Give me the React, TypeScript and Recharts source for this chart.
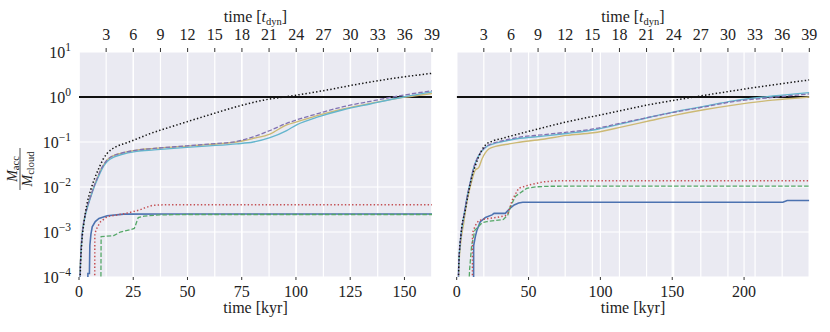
import React from 'react';
import { LineChart, Line, XAxis, YAxis, CartesianGrid } from 'recharts';

const FONT = "'Liberation Serif', 'Times New Roman', serif";
const TXT = '#222222';

// axis ticks
const yTicks = [1e-4, 1e-3, 1e-2, 1e-1, 1, 10];
const leftKyrTicks = [0, 25, 50, 75, 100, 125, 150];
const rightKyrTicks = [0, 50, 100, 150, 200];
const tdynTicks = [3, 6, 9, 12, 15, 18, 21, 24, 27, 30, 33, 36, 39];
const leftXMax = 162.7;
const rightXMax = 245.4;
const tdynMax = 39;
const leftTdyn = leftXMax / tdynMax;
const rightTdyn = rightXMax / tdynMax;

// reference level Macc = Mcloud, on the t_dyn axis
const unity = [[0, 1], [39, 1]];

// left panel series: [time kyr, Macc/Mcloud]
const leftBlack = [[0.2,1e-5],[0.6,1.2e-4],[1.2,5e-4],[2.3,1.6e-3],[3.5,3.8e-3],[5.4,8.6e-3],[7.3,0.016],[9,0.025],[11.2,0.042],[13,0.056],[17,0.078],[22.3,0.097],[26.6,0.117],[33,0.155],[40,0.2],[49.6,0.28],[60,0.4],[72.7,0.61],[85,0.85],[100.3,1.1],[115,1.45],[126.5,1.85],[145,2.6],[162.7,3.36]];
const leftYellow = [[0.3,1e-5],[0.5,1.2e-4],[1.5,9.4e-4],[2.5,2e-3],[3.8,3.6e-3],[5.5,6.5e-3],[6.9,0.0103],[8.5,0.016],[10,0.024],[11.5,0.032],[13,0.04],[16,0.05],[19.2,0.056],[26.6,0.066],[34.6,0.072],[49.6,0.081],[60,0.088],[72.7,0.1],[80.3,0.12],[88,0.15],[95.7,0.24],[100.3,0.28],[111,0.4],[121.8,0.54],[134.2,0.72],[149.5,0.98],[162.7,1.2]];
const leftCyan = [[0.3,1e-5],[0.5,1.1e-4],[1.5,9e-4],[2.5,1.9e-3],[3.8,3.4e-3],[5.5,6.2e-3],[6.9,0.0098],[8.5,0.015],[10,0.022],[11.5,0.03],[13,0.037],[16,0.046],[19.2,0.052],[26.6,0.062],[34.6,0.067],[49.6,0.076],[60,0.082],[72.7,0.091],[80.3,0.1],[88,0.125],[95.7,0.18],[100.3,0.24],[111,0.37],[121.8,0.52],[134.2,0.7],[149.5,1.0],[162.7,1.3]];
const leftPurple = [[0.3,1e-5],[0.5,1.2e-4],[1.5,9.4e-4],[2.5,2e-3],[3.8,3.6e-3],[5.5,6.5e-3],[6.9,0.0103],[8.5,0.016],[10,0.024],[11.5,0.032],[13,0.04],[16,0.05],[19.2,0.056],[26.6,0.066],[34.6,0.072],[49.6,0.082],[60,0.09],[72.7,0.103],[80.3,0.13],[88,0.18],[95.7,0.26],[100.3,0.31],[111,0.44],[121.8,0.61],[134.2,0.8],[149.5,1.1],[162.7,1.38]];
const leftBlue = [[4.0,1e-5],[4.1,1.2e-4],[4.8,1.2e-4],[5.0,5e-4],[5.5,9e-4],[6.1,1.3e-3],[7.5,1.7e-3],[9.2,2e-3],[13,2.3e-3],[20.7,2.5e-3],[40,2.52e-3],[162.7,2.52e-3]];
const leftRed = [[7.2,1e-5],[7.3,9.3e-4],[8.5,1.3e-3],[10,1.7e-3],[13,2.2e-3],[20,2.5e-3],[24.6,2.8e-3],[28.1,3.1e-3],[30,3.4e-3],[33.8,3.9e-3],[40,4.05e-3],[162.7,4.05e-3]];
const leftGreen = [[10,1e-5],[10.2,7.9e-4],[16,8.3e-4],[19,1e-3],[24.2,1.15e-3],[25.5,1.2e-3],[27.3,2.1e-3],[30,2.25e-3],[37.3,2.4e-3],[50,2.45e-3],[162.7,2.45e-3]];

// right panel series
const rightBlack = [[0.8,1e-5],[1.5,2e-4],[3,9e-4],[6,3.1e-3],[8,7e-3],[10.6,0.017],[13,0.03],[15.3,0.047],[19.9,0.085],[25,0.105],[31.5,0.12],[52.4,0.18],[76.6,0.28],[100,0.4],[134.5,0.68],[169.4,1.05],[206,1.6],[245.4,2.39]];
const rightYellow = [[1.0,1e-5],[1.4,1.45e-4],[2.5,4.7e-4],[4.9,1.6e-3],[7,4.5e-3],[9.5,0.0103],[13,0.024],[15.3,0.027],[17.6,0.042],[20,0.058],[22.3,0.07],[27,0.08],[33.8,0.088],[41.8,0.097],[60,0.115],[76.6,0.14],[95.1,0.16],[116,0.22],[135,0.3],[153,0.4],[172,0.52],[192.5,0.66],[220,0.85],[245.4,1.0]];
const rightCyan = [[0.9,1e-5],[1.3,1.5e-4],[2.5,6e-4],[5,2.3e-3],[7,5.5e-3],[9.5,0.013],[12,0.028],[15.3,0.05],[19.9,0.075],[25,0.09],[33.8,0.105],[41.8,0.118],[60,0.135],[76.6,0.155],[95.1,0.185],[116,0.26],[135,0.36],[153,0.48],[172,0.62],[192.5,0.82],[220,1.05],[245.4,1.25]];
const rightPurple = [[0.9,1e-5],[1.3,1.5e-4],[2.5,6e-4],[5,2.3e-3],[7,5.5e-3],[9.5,0.013],[12,0.028],[15.3,0.05],[19.9,0.077],[25,0.093],[33.8,0.11],[41.8,0.125],[60,0.145],[76.6,0.165],[95.1,0.195],[116,0.27],[135,0.36],[153,0.47],[172,0.6],[192.5,0.79],[220,0.98],[245.4,1.17]];
const rightBlue = [[11.7,1e-5],[11.8,5e-4],[13,8e-4],[14.1,1.1e-3],[16.4,1.7e-3],[20,2.1e-3],[24.6,2.4e-3],[26,2.6e-3],[33.8,2.6e-3],[37.3,3.4e-3],[40,4e-3],[43.1,4.4e-3],[46,4.6e-3],[227,4.6e-3],[230,5e-3],[245.4,5e-3]];
const rightRed = [[10.9,1e-5],[11,9.5e-4],[13,1.4e-3],[15.3,1.8e-3],[20,1.95e-3],[27.7,2.1e-3],[33.8,2.3e-3],[36,2.7e-3],[38.5,5e-3],[43.1,9.4e-3],[50,0.011],[60,0.013],[70,0.0138],[245.4,0.0138]];
const rightGreen = [[7.2,1e-5],[9,1.5e-4],[10.4,5e-4],[12.7,1.1e-3],[17.6,1.6e-3],[20.9,1.7e-3],[26.6,1.8e-3],[32.5,1.9e-3],[35.6,2.4e-3],[37.3,3.6e-3],[40.9,6.2e-3],[43.1,7e-3],[48.7,9.3e-3],[55,0.0101],[65,0.0104],[245.4,0.0105]];

const toPts = (a: number[][]) => a.map(([t, v]) => ({ t, v }));

const C = {
  blue: '#4C72B0', green: '#55A868', red: '#C44E52',
  purple: '#8172B2', yellow: '#CCB974', cyan: '#64B5CD', black: '#111111',
};

type S = { data: number[][]; color: string; dash?: string; width: number; curve: 'monotone' | 'linear' };

const leftSeries: S[] = [
  { data: leftBlue, color: C.blue, width: 1.6, curve: 'linear' },
  { data: leftGreen, color: C.green, dash: '4.5 2', width: 1.3, curve: 'linear' },
  { data: leftRed, color: C.red, dash: '1.4 2.2', width: 1.5, curve: 'linear' },
  { data: leftYellow, color: C.yellow, width: 1.4, curve: 'monotone' },
  { data: leftCyan, color: C.cyan, width: 1.4, curve: 'monotone' },
  { data: leftPurple, color: C.purple, dash: '4.5 2', width: 1.3, curve: 'monotone' },
  { data: leftBlack, color: C.black, dash: '1.4 2.2', width: 1.5, curve: 'monotone' },
];
const rightSeries: S[] = [
  { data: rightBlue, color: C.blue, width: 1.6, curve: 'linear' },
  { data: rightGreen, color: C.green, dash: '4.5 2', width: 1.3, curve: 'linear' },
  { data: rightRed, color: C.red, dash: '1.4 2.2', width: 1.5, curve: 'linear' },
  { data: rightYellow, color: C.yellow, width: 1.4, curve: 'monotone' },
  { data: rightCyan, color: C.cyan, width: 1.4, curve: 'monotone' },
  { data: rightPurple, color: C.purple, dash: '4.5 2', width: 1.3, curve: 'monotone' },
  { data: rightBlack, color: C.black, dash: '1.4 2.2', width: 1.5, curve: 'monotone' },
];

const YTick = (props: any) => {
  const { x, y, payload } = props;
  const exp = Math.round(Math.log10(payload.value));
  const s = exp < 0 ? '\u2212' + String(-exp) : String(exp);
  return (
    <text x={x} y={y + 5.5} textAnchor="end" fill={TXT} fontFamily={FONT} fontSize={16}>
      10<tspan dy={-7} fontSize={11.5}>{s}</tspan>
    </text>
  );
};

// bottom ticks: props.y is the top of the label; top ticks: props.y is the baseline
const BottomTick = (props: any) => (
  <text x={props.x} y={props.y + 11} textAnchor="middle" fill={TXT} fontFamily={FONT} fontSize={16}>
    {props.payload.value}
  </text>
);
const TopTick = (props: any) => (
  <text x={props.x} y={props.y + 0.5} textAnchor="middle" fill={TXT} fontFamily={FONT} fontSize={16}>
    {props.payload.value}
  </text>
);

function Panel(props: {
  series: S[]; xMax: number; tdyn: number; kyrTicks: number[]; showY: boolean;
  width: number; mLeft: number; mRight: number; cx: number;
}) {
  const { series, xMax, tdyn, kyrTicks, showY, width, mLeft, mRight, cx } = props;
  const bottomLabel = () => (
    <text x={cx} y={313} textAnchor="middle" fill={TXT} fontFamily={FONT} fontSize={16}>time [kyr]</text>
  );
  const topLabel = () => (
    <text x={cx} y={22} textAnchor="middle" fill={TXT} fontFamily={FONT} fontSize={16}>
      time [<tspan fontStyle="italic">t</tspan><tspan fontSize={10.5} dy={2.5}>dyn</tspan><tspan dy={-2.5}>]</tspan>
    </text>
  );
  return (
    <LineChart width={width} height={332} margin={{ top: 0, right: mRight, bottom: 0, left: mLeft }}>
      <CartesianGrid fill="#EAEAF2" stroke="#FFFFFF" strokeWidth={1.2} />
      <CartesianGrid xAxisId="top" horizontal={false} stroke="#FFFFFF" strokeWidth={1.2} />
      <XAxis type="number" dataKey="t" domain={[0, xMax]} ticks={kyrTicks} allowDataOverflow
        orientation="bottom" height={55} axisLine={false} tickLine={{ stroke: '#333' }} tickSize={3}
        tickMargin={6} tick={<BottomTick />} label={bottomLabel} />
      <XAxis xAxisId="top" type="number" dataKey="t" domain={[0, xMax / tdyn]} ticks={tdynTicks} allowDataOverflow
        orientation="top" height={52} axisLine={false} tickLine={{ stroke: '#333' }} tickSize={4}
        tickMargin={9} tick={<TopTick />} label={topLabel} />
      {showY ? (
        <YAxis scale="log" domain={[1e-4, 10]} ticks={yTicks} allowDataOverflow width={79}
          axisLine={false} tickLine={false} tickSize={0} tickMargin={8} tick={<YTick />} />
      ) : (
        <YAxis hide scale="log" domain={[1e-4, 10]} ticks={yTicks} allowDataOverflow width={0} />
      )}
      <Line xAxisId="top" data={toPts(unity)} dataKey="v" type="linear" stroke="#111" strokeWidth={1.8}
        dot={false} activeDot={false} isAnimationActive={false} />
      {series.map((s, i) => (
        <Line key={i} data={toPts(s.data)} dataKey="v" type={s.curve} stroke={s.color}
          strokeWidth={s.width} strokeDasharray={s.dash} dot={false} activeDot={false}
          isAnimationActive={false} />
      ))}
    </LineChart>
  );
}

export default function App() {
  return (
    <div style={{ position: 'absolute', left: 0, top: 0, width: 830, height: 332, background: '#fff' }}>
      <div style={{ position: 'absolute', left: 0, top: 0 }}>
        <Panel series={leftSeries} xMax={leftXMax} tdyn={leftTdyn} kyrTicks={leftKyrTicks} showY
          width={440} mLeft={0} mRight={8} cx={255.5} />
      </div>
      <div style={{ position: 'absolute', left: 440, top: 0 }}>
        <Panel series={rightSeries} xMax={rightXMax} tdyn={rightTdyn} kyrTicks={rightKyrTicks} showY={false}
          width={390} mLeft={16.7} mRight={20.7} cx={193} />
      </div>
      <svg width={80} height={332} style={{ position: 'absolute', left: 0, top: 0 }}>
        <g transform="rotate(-90 20 169)" fontFamily={FONT} fill={TXT}>
          <text x={20} y={165.5} textAnchor="middle" fontSize={14}>
            <tspan fontStyle="italic">M</tspan><tspan fontSize={10.5} dy={2.5}>acc</tspan>
          </text>
          <line x1={-1} x2={41} y1={169} y2={169} stroke={TXT} strokeWidth={0.8} />
          <text x={20} y={180.5} textAnchor="middle" fontSize={14}>
            <tspan fontStyle="italic">M</tspan><tspan fontSize={10.5} dy={2.5}>cloud</tspan>
          </text>
        </g>
      </svg>
    </div>
  );
}
